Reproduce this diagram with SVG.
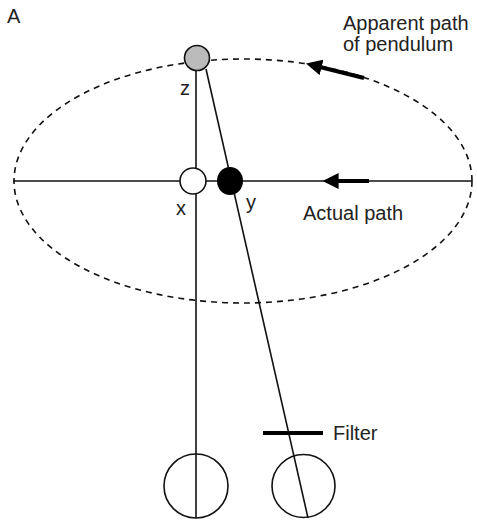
<svg xmlns="http://www.w3.org/2000/svg" width="477" height="521" viewBox="0 0 477 521">
<style>
.t{font-family:"Liberation Sans",Arial,sans-serif;font-size:20px;fill:#222}
.ln{stroke:#111;stroke-width:1.6;fill:none}
</style>
<defs>
<marker id="ah" viewBox="0 0 10 10" refX="1" refY="5" markerWidth="4" markerHeight="4" orient="auto-start-reverse"><path d="M0,0 L10,5 L0,10 z" fill="#000"/></marker>
</defs>
<rect width="477" height="521" fill="#fff"/>
<g id="connectors">
<ellipse cx="243" cy="181" rx="229" ry="122" fill="none" stroke="#111" stroke-width="1.6" stroke-dasharray="6,5"/>
<line class="ln" x1="13" y1="181" x2="472" y2="181"/>
<line class="ln" x1="196" y1="70" x2="196" y2="518"/>
<line class="ln" x1="206" y1="69" x2="308" y2="518"/>
<line x1="369" y1="181" x2="337" y2="181" stroke="#000" stroke-width="4" marker-end="url(#ah)"/>
<line x1="364" y1="78" x2="320" y2="67" stroke="#000" stroke-width="4" marker-end="url(#ah)"/>
</g>
<g id="z-ball"><circle cx="197" cy="58" r="12.5" fill="#bbb" stroke="#111" stroke-width="1.6"/></g>
<g id="x-ball"><circle cx="193" cy="181" r="13" fill="#fff" stroke="#111" stroke-width="1.6"/></g>
<g id="y-ball"><ellipse cx="230" cy="181" rx="13" ry="14" fill="#000"/></g>
<g id="left-eye"><circle cx="196" cy="486" r="32" fill="none" stroke="#111" stroke-width="1.6"/></g>
<g id="right-eye"><circle cx="303.5" cy="486" r="31.5" fill="none" stroke="#111" stroke-width="1.6"/></g>
<g id="filter"><line x1="263" y1="433" x2="323" y2="433" stroke="#000" stroke-width="4"/><text class="t" x="333" y="440">Filter</text></g>
<g id="labels">
<text class="t" x="7" y="23">A</text>
<text class="t" x="343" y="30">Apparent path</text>
<text class="t" x="343" y="51">of pendulum</text>
<text class="t" x="180" y="95">z</text>
<text class="t" x="176" y="215">x</text>
<text class="t" x="246" y="209">y</text>
<text class="t" x="303" y="220">Actual path</text>
</g>
</svg>
